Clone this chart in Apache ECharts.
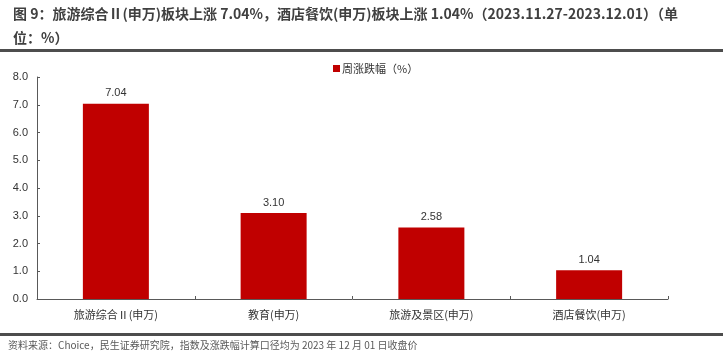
<!DOCTYPE html>
<html><head><meta charset="utf-8">
<script src="https://cdn.jsdelivr.net/npm/echarts@6/dist/echarts.min.js"></script>
<style>html,body{margin:0;padding:0;background:#fff}#c{width:723px;height:359px}</style>
</head><body><div id="c"></div>
<script>
var categories = ['旅游综合Ⅱ(申万)', '教育(申万)', '旅游及景区(申万)', '酒店餐饮(申万)'];
var values = [7.04, 3.10, 2.58, 1.04];
var seriesName = '周涨跌幅（%）';
var titleText = '图 9：旅游综合Ⅱ(申万)板块上涨 7.04%，酒店餐饮(申万)板块上涨 1.04%（2023.11.27-2023.12.01）（单\n位：%）';
var sourceText = '资料来源：Choice，民生证券研究院，指数及涨跌幅计算口径均为 2023 年 12 月 01 日收盘价';
var font = '"Noto Sans CJK SC", "Liberation Sans", Arial, sans-serif';
var chart = echarts.init(document.getElementById('c'));
chart.setOption({
  animation: false,
  textStyle: {fontFamily: font},
  title: {
    text: titleText, left: 8, top: -3,
    textStyle: {fontSize: 14, fontWeight: 'bold', color: '#404040', lineHeight: 24, fontFamily: font}
  },
  legend: {
    data: [seriesName], top: 58, left: 328, itemWidth: 7, itemHeight: 7, itemGap: 2,
    icon: 'rect', textStyle: {fontSize: 11, color: '#333', fontFamily: font, padding: [0,0,0,-3]}
  },
  grid: {left: 37, right: 55, top: 77, bottom: 60},
  xAxis: {
    type: 'category', data: categories,
    axisLine: {lineStyle: {color: '#595959', width: 1}},
    axisTick: {show: true, inside: true, length: 3, lineStyle: {color: '#595959'}},
    axisLabel: {fontSize: 11, color: '#333', margin: 10, fontFamily: font}
  },
  yAxis: {
    type: 'value', min: 0, max: 8, interval: 1,
    axisLine: {show: true, lineStyle: {color: '#595959', width: 1}},
    axisTick: {show: true, inside: true, length: 3, lineStyle: {color: '#595959'}},
    splitLine: {show: false},
    axisLabel: {fontSize: 11, color: '#333', margin: 9, formatter: function(v){return v.toFixed(1);}, fontFamily: '"Liberation Sans", Arial, sans-serif'}
  },
  series: [{
    name: seriesName, type: 'bar', data: values, barWidth: 66,
    itemStyle: {color: '#C00000'},
    label: {show: true, position: 'top', distance: 5, fontSize: 11, color: '#333',
      formatter: function(p){return p.value.toFixed(2);}, fontFamily: '"Liberation Sans", Arial, sans-serif'}
  }],
  graphic: [
    {type: 'rect', shape: {x: 0, y: 49, width: 723, height: 3}, style: {fill: '#4d4d4d'}},
    {type: 'rect', shape: {x: 0, y: 333, width: 723, height: 3}, style: {fill: '#4d4d4d'}},
    {type: 'text', left: 8, top: 340, style: {text: sourceText, fontSize: 10, fill: '#595959', fontFamily: font}}
  ]
});
</script></body></html>
